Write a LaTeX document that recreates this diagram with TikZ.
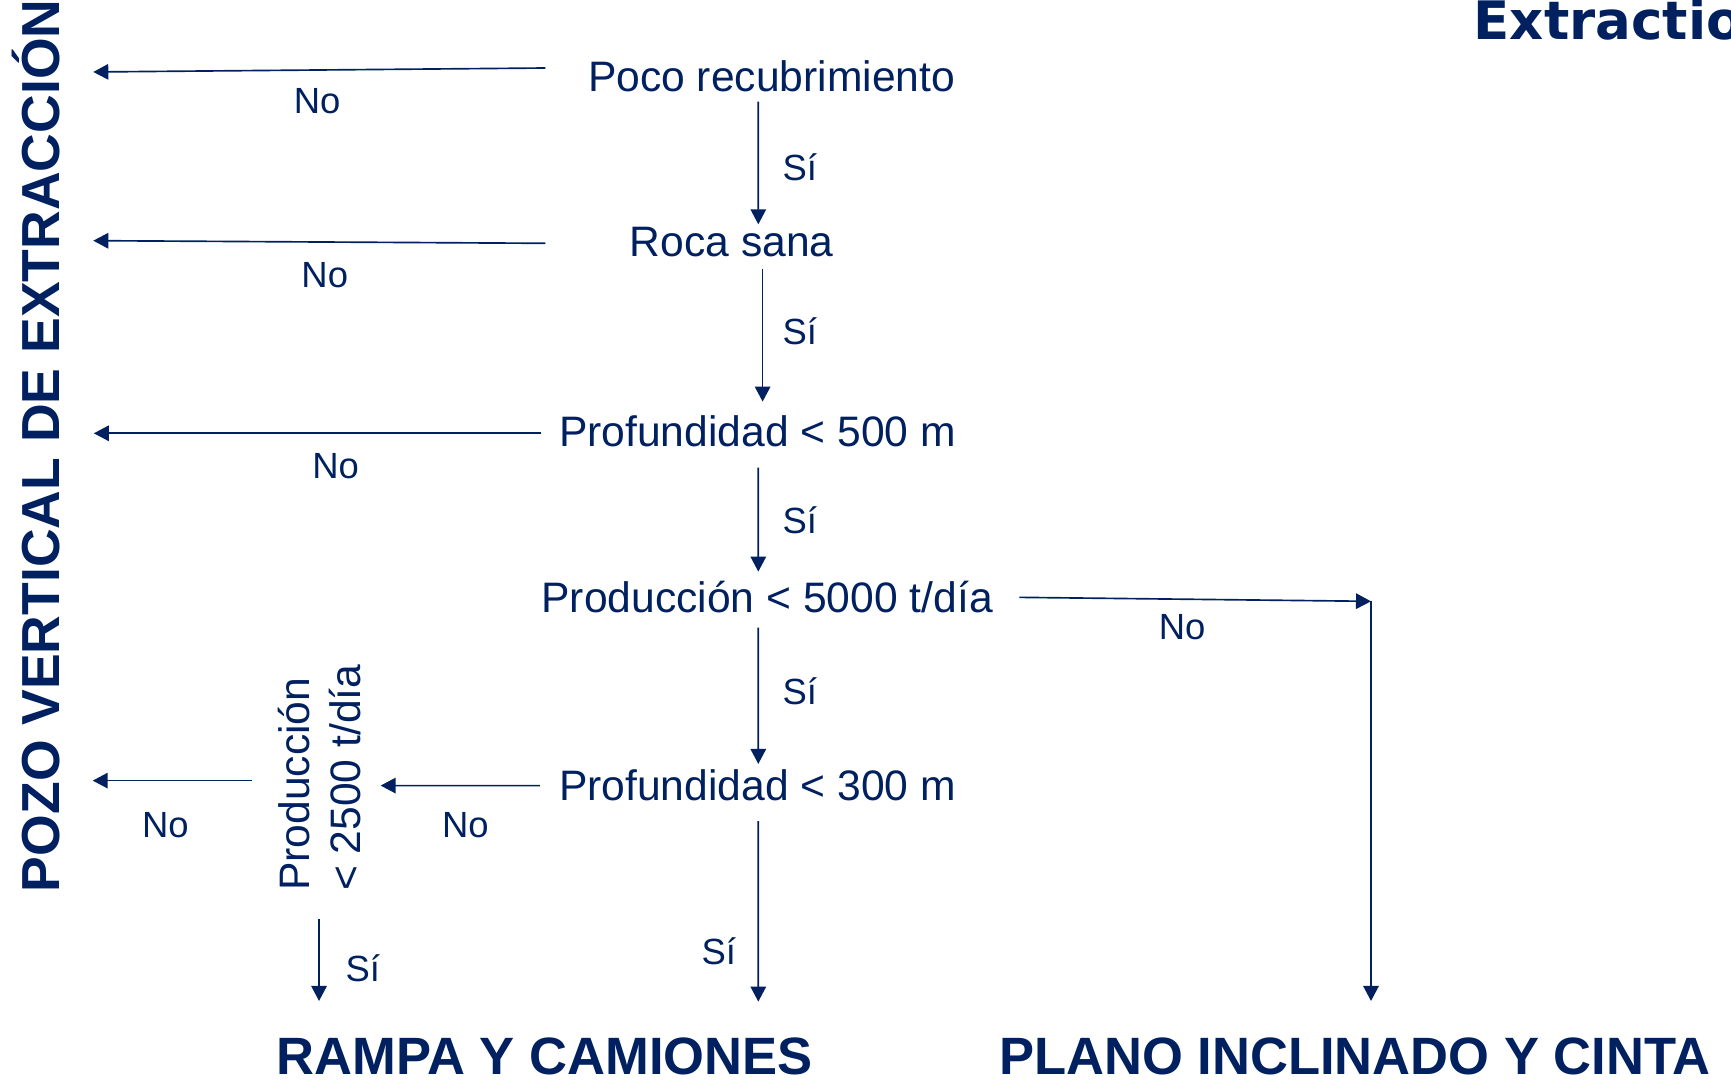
\documentclass[tikz,border=0pt]{standalone}
\usepackage{fontspec}
\setmainfont{Liberation Sans}
\newfontfamily\verdana{DejaVu Sans}
\usetikzlibrary{arrows.meta}
\definecolor{navy}{RGB}{0,32,96}
\begin{document}
\begin{tikzpicture}[x=0.5pt,y=-0.5pt,
  every node/.style={inner sep=0pt, outer sep=0pt, text=navy},
  cond/.style={font=\fontsize{19.3}{23.25}\selectfont, anchor=base},
  lbl/.style={font=\fontsize{16.5}{20}\selectfont, anchor=base west},
  res/.style={font=\fontsize{23.8}{28}\selectfont\bfseries, anchor=base west},
  arr/.style={draw=navy, line width=0.75pt, -{Triangle[length=6.8pt,width=7pt]}}]
\useasboundingbox (0,0) rectangle (1568,979);
\begin{scope}
  \clip (0,0) rectangle (1568,979);
  \node[anchor=base west, font=\verdana\bfseries\fontsize{24}{28}\selectfont] (titulo) at (1335,36) {Extraction};
\end{scope}
% condition nodes
\node[cond] (poco)  at (698.9,83)    {Poco recubrimiento};
\node[cond] (roca)  at (662.7,231.9) {Roca sana};
\node[cond] (prof5) at (686.2,404.6) {Profundidad < 500 m};
\node[cond] (prod5) at (694.9,554.9) {Producción < 5000 t/día};
\node[cond] (prof3) at (686.2,725.2) {Profundidad < 300 m};
\node[rotate=90, anchor=south west, align=left, text depth=0pt,
      font=\fontsize{19.3}{23.25}\selectfont] (prod25) at (326.7,807) {Producción\\< 2500 t/día};
% results
\node[res, rotate=90, font=\fontsize{24.25}{28}\selectfont\bfseries] (pozo) at (54,808) {POZO VERTICAL DE EXTRACCIÓN};
\node[res] (rampa) at (250.6,973) {RAMPA Y CAMIONES};
\node[res] (plano) at (905.2,973) {PLANO INCLINADO Y CINTA};
% free ends
\coordinate (n1) at (84.5,65.2);
\coordinate (n2) at (84.5,218);
\coordinate (n3) at (85,392.5);
\coordinate (n4) at (84,707.1);
\coordinate (corner) at (1241.9,544.7);
\coordinate (toplano) at (1241.9,906.7);
\coordinate (torampa) at (686.9,907.3);
\coordinate (torampb) at (289,906.7);
% No arrows
\draw[arr] ([shift={(-204.9,-21.4)}]poco.base) -- (n1);
\draw[arr] ([shift={(-168.7,-11.5)}]roca.base) -- (n2);
\draw[arr] ([shift={(-195.7,-12.1)}]prof5.base) -- (n3);
\draw[arr] ([shift={(-98.7,-99.9)}]prod25.south west) -- (n4);
\draw[arr] ([shift={(-197.1,-13.6)}]prof3.base) -- ([shift={(18.1,-95.4)}]prod25.south west);
\draw[arr] ([shift={(228.4,-13.8)}]prod5.base) -- (corner);
\draw[arr] (corner) -- (toplano);
% Si arrows
\draw[arr] ([shift={(-12,9.1)}]poco.base) -- ([shift={(24.2,-28.7)}]roca.base);
\draw[arr] ([shift={(28.1,11.5)}]roca.base) -- ([shift={(4.6,-40.8)}]prof5.base);
\draw[arr] ([shift={(0.7,19)}]prof5.base) -- ([shift={(-8,-37.1)}]prod5.base);
\draw[arr] ([shift={(-8,13.6)}]prod5.base) -- ([shift={(0.7,-33.2)}]prof3.base);
\draw[arr] ([shift={(0.7,18.5)}]prof3.base) -- (torampa);
\draw[arr] ([shift={(-37.7,25.7)}]prod25.south west) -- (torampb);
% labels
\node[lbl] (no1) at (266.2,102.7) {No};
\node[lbl] (no2) at (273.1,260.3) {No};
\node[lbl] (no3) at (283,433.3) {No};
\node[lbl] (no4) at (128.8,758.4) {No};
\node[lbl] (no5) at (400.5,758.4) {No};
\node[lbl] (no6) at (1049.7,579.1) {No};
\node[lbl] (si1) at (708.9,163.7) {Sí};
\node[lbl] (si2) at (708.9,312.5) {Sí};
\node[lbl] (si3) at (708.9,483.1) {Sí};
\node[lbl] (si4) at (708.9,638.6) {Sí};
\node[lbl] (si5) at (635.5,874.1) {Sí};
\node[lbl] (si6) at (313.1,889.2) {Sí};
\end{tikzpicture}
\end{document}
